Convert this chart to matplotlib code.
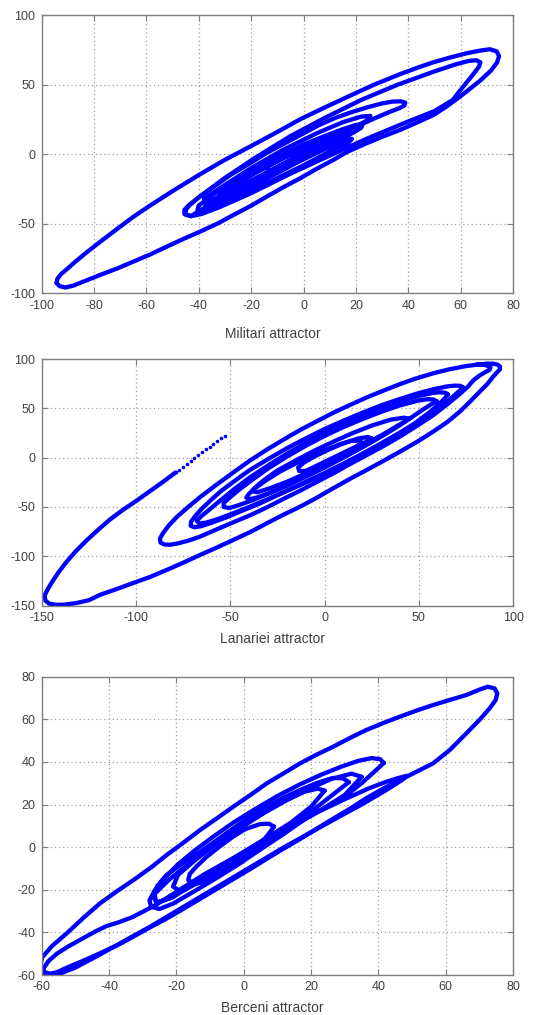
import matplotlib
matplotlib.use("Agg")
import matplotlib.pyplot as plt

plt.rcParams["axes.unicode_minus"] = False

# ---------------- Panel 1: Militari attractor ----------------
mil_label = "Militari attractor"
mil_xticks = [-100, -80, -60, -40, -20, 0, 20, 40, 60, 80]
mil_yticks = [-100, -50, 0, 50, 100]
mil_loop1_x = [-94.3, -94, -92.5, -90, -87, -82.8, -77, -71.4, -65, -58.7, -50, -39.6, -30, -20.5, -10, -1.4, 8, 17.7, 27, 36.8, 44, 49.5, 56, 62.2, 67.3, 71.1, 73.7, 74.6, 73.9, 71.5, 67.5, 62.5, 58.4, 54, 49.5, 43, 36.8, 30, 24, 17, 11.3, 5, -1.4, -8, -14.1, -20, -26.8, -33, -39.6, -46, -52.3, -58.5, -65, -71, -77.7, -84, -88, -91, -93.2, -94.3]
mil_loop1_y = [-92.5, -89.5, -86, -82, -77, -70.5, -62, -54, -45, -37, -26.5, -14.5, -4, 5.4, 16, 25, 33.5, 42, 50, 57.5, 62.5, 66, 69.5, 72.5, 74.4, 75.4, 73.9, 70.5, 66, 60, 53, 45.5, 39.5, 33.5, 28.1, 22.5, 17.4, 12.5, 7.8, 2, -4.2, -10.5, -17.4, -24, -30.5, -37, -43.7, -50, -55.7, -61, -66.5, -72, -77.2, -82, -86.8, -91.5, -94.5, -95.8, -94.8, -92.5]
mil_loop2_x = [-43, -45.5, -45.5, -44, -40, -30, -18, -5, 8, 22, 36, 50, 58, 63, 66, 67.5, 67, 65, 62, 59, 57, 50, 38, 24, 10, -5, -20, -32, -39, -43]
mil_loop2_y = [-44.5, -43, -40, -37, -31, -17, -2, 13, 26, 39, 50, 59.5, 64.5, 67, 67.5, 66, 63, 58, 51, 44, 39, 31, 22, 11, -1, -14, -28, -38, -43, -44.5]
mil_loop3_x = [-45, -43.5, -40, -34, -28, -20, -14, -6, 0, 6, 12, 18, 24, 30, 34, 37, 38.8, 38.5, 36.5, 33, 28, 22, 16, 10, 4, 0, -6, -12, -18, -24, -30, -35, -40, -43, -45, -45]
mil_loop3_y = [-40, -36.5, -31, -23, -15, -6, 1, 9, 15, 21, 26, 30, 33.5, 36.5, 37.8, 38, 37, 35, 33, 30.5, 26.5, 21.5, 16, 10.5, 4.5, 0.5, -5.5, -11.5, -17.5, -24, -30, -35.5, -41, -44.5, -43.5, -40]
mil_loop4_x = [-40, -36, -30, -20, -10, 0, 8, 15, 20, 22.5, 22, 19, 14, 7, 0, -8, -16, -24, -31, -36, -39.5, -40.5, -40]
mil_loop4_y = [-37, -31, -23, -12, -2, 7, 13, 18, 21, 21.5, 19, 15.5, 11, 4.5, -2.5, -10.5, -19, -27, -34, -39, -41.5, -40, -37]
mil_loop5_x = [-32, -27, -18, -8, 2, 10, 15, 17.5, 16, 12, 5, -3, -12, -21, -28, -31.5, -32]
mil_loop5_y = [-29, -22.5, -13, -3, 6, 11.5, 14, 14, 11, 7.5, 1, -6.5, -15.5, -24.5, -31.5, -33, -29]
mil_loop6_x = [-25, -18, -8, 3, 10, 13.5, 12, 6, -3, -12, -20, -24.5, -25]
mil_loop6_y = [-21, -13, -3, 5.5, 9.5, 9.5, 7, 2, -6, -14, -22, -25, -21]
mil_loop7_x = [-14, -6, 4, 12, 16, 15, 8, 0, -8, -13, -14]
mil_loop7_y = [-9, -1, 8, 14, 15.5, 12, 6, -2, -10, -13, -9]
mil_loop8_x = [-38, -30, -20, -8, 5, 15, 22, 25.5, 24, 18, 8, -3, -14, -25, -33, -37.5, -38]
mil_loop8_y = [-32, -22, -10, 3, 15, 23, 27, 27.5, 24, 18, 9, -2, -13, -24, -33, -36.5, -32]
mil_loop9_x = [-36, -28, -16, -4, 8, 15, 18.5, 17, 10, 0, -12, -24, -32, -36, -36]
mil_loop9_y = [-34, -26, -16, -5, 4, 9, 11, 8, 2, -8, -19, -29, -36, -37.5, -34]

# ---------------- Panel 2: Lanariei attractor ----------------
lan_label = "Lanariei attractor"
lan_xticks = [-150, -100, -50, 0, 50, 100]
lan_yticks = [-150, -100, -50, 0, 50, 100]
lan_tail_dots_x = [-53, -55, -57, -59, -61, -63, -65, -67, -69, -71, -73, -75, -77, -79]
lan_tail_dots_y = [22, 19.5, 17, 14, 11, 8.5, 6, 3, 0, -3, -6, -9, -12, -15]
lan_tail_x = [-79, -86, -93, -100, -107, -114, -120, -126, -132, -137, -141, -144.5, -147, -148.5, -148, -146, -142.5, -138, -132, -125, -119, -110, -101.4, -92, -83.7, -75, -66, -57, -48.4, -39, -30.7, -22, -13, -4, 4.6, 13, 22.3, 31, 39.9, 49, 57.6, 65, 71.7, 77, 82.3, 86.5, 89.4, 91.5, 93, 93, 91.5, 89, 86]
lan_tail_y = [-15, -25, -34.5, -44, -53, -63, -73, -83.5, -95, -106, -116, -126, -134, -140, -145, -148, -149.2, -149, -147.5, -144.5, -139, -133, -127, -120.5, -113.8, -106.5, -98.6, -91, -83.4, -75, -66.6, -58, -49.7, -40.5, -31, -22, -12.5, -3.5, 6, 16, 26.4, 36, 46.6, 56.5, 66.9, 75, 82.1, 86.5, 89.5, 92.5, 94.5, 95.3, 95.2]
lan_loopB_x = [86, 80, 75.3, 66, 57.6, 48, 39.9, 30, 22.3, 13, 4.6, -5, -13, -22, -30.7, -40, -48.4, -57, -66, -72, -78, -82.5, -85.5, -87.3, -87, -85, -82, -78, -72, -66, -57, -48.4, -39, -30.7, -22, -13, -4, 4.6, 13, 22.3, 31, 39.9, 48, 57.6, 65, 71.7, 76, 79, 82, 85, 87.5, 88, 86, 82, 80]
lan_loopB_y = [95.2, 94, 92.9, 89.5, 85.5, 80, 74.5, 67, 61, 53, 45.5, 36, 28, 18, 8, -3.5, -15, -27, -40, -49.5, -59.5, -68.5, -76, -82, -86, -88, -88.3, -87, -84, -80, -72.5, -65.5, -58, -50.5, -42, -33.5, -24.5, -16, -7, 2.5, 11.5, 21.3, 31, 43, 54, 64.5, 72, 78.5, 83, 86.5, 89, 91.5, 93.5, 94.8, 94]
lan_loopC_x = [73.5, 72, 69, 65, 58, 50, 40, 30, 20, 10, 0, -10, -20, -30, -40, -48, -55, -60, -65, -68.5, -70.8, -71, -69, -65.5, -60, -52, -44, -35, -25, -15, -5, 5, 15, 25, 35, 45, 52, 58, 63, 67, 70.5, 72.7, 73.5]
lan_loopC_y = [71, 72.8, 73, 72.2, 69.5, 65.5, 59.5, 53, 45.5, 37.5, 29, 19.5, 9.5, -1.5, -13, -24, -34, -42.5, -51.5, -59, -65, -69, -70.5, -69.5, -66, -60.5, -54, -47, -38, -29.5, -21, -12, -2.5, 7, 17.5, 28, 37, 46, 53.5, 60, 66, 69.5, 71]
lan_loopD_x = [65.5, 64, 61, 57, 50, 40, 30, 20, 10, 0, -10, -20, -30, -40, -48, -55, -61, -65.5, -67.8, -66.5, -63, -57, -50, -40, -30, -20, -10, 0, 10, 20, 30, 40, 48, 55, 60, 63.5, 65.5]
lan_loopD_y = [64, 65.8, 66.3, 65.5, 62.5, 57, 50.5, 43, 34.5, 25, 15, 4, -8, -20.5, -32, -43, -52.5, -59.5, -64, -66.5, -66, -62.5, -57.5, -50, -42, -33.5, -24.5, -15.5, -6, 4, 14.5, 25.5, 35, 45, 53, 59.5, 64]
lan_loopE_x = [59.5, 58, 55, 50, 40, 30, 20, 10, 0, -10, -20, -30, -38, -45, -50, -53.5, -53.5, -50.5, -46, -38, -28, -18, -8, 2, 12, 22, 32, 40, 47, 52, 56.5, 59.5]
lan_loopE_y = [57, 58.8, 59.3, 58, 53, 46.5, 39, 31, 22, 12, 1, -11, -22, -32, -40, -46, -50, -51, -48.5, -43, -35, -26.5, -17.5, -8, 2, 12.5, 23.5, 33, 42, 48.5, 54, 57]
lan_loopF_x = [19.5, 18, 14, 8, 0, -8, -16, -24, -31, -36.5, -40, -41.5, -39.5, -35, -28, -20, -12, -4, 4, 11, 16, 19.5]
lan_loopF_y = [15.5, 17.3, 17, 13.5, 7.5, 1, -6.5, -14.5, -23, -30.5, -36.5, -40.5, -42, -40, -35, -28.5, -21, -13.5, -5.5, 2, 8.5, 15.5]
lan_loopG_x = [25, 23, 18, 10, 2, -5, -11, -14, -13.5, -10, -4, 3, 10, 17, 22, 25]
lan_loopG_y = [19.5, 21, 19.5, 14.5, 8, 1.5, -5, -10, -13.5, -13.5, -8, -1.5, 5, 11.5, 16, 19.5]
lan_loopH_x = [45, 42, 35, 25, 15, 5, -5, -15, -25, -32, -37, -38.5, -35.5, -29, -20, -10, 0, 10, 20, 30, 38, 43, 45]
lan_loopH_y = [39.5, 40.5, 38.5, 32.5, 25, 16.5, 7.5, -2.5, -13, -22.5, -30.5, -34, -35, -31, -24.5, -16, -7, 2.5, 12.5, 22.5, 31.5, 37, 39.5]

# ---------------- Panel 3: Berceni attractor ----------------
ber_label = "Berceni attractor"
ber_xticks = [-60, -40, -20, 0, 20, 40, 60, 80]
ber_yticks = [-60, -40, -20, 0, 20, 40, 60, 80]
ber_loopO_x = [-60, -57, -52.6, -47.5, -42.7, -37.5, -32.8, -27.5, -22.9, -18, -13, -8, -3.1, 2, 6.8, 12, 16.7, 21.5, 26.5, 31.5, 36.4, 41.5, 46.3, 51.5, 56.2, 61, 66.1, 70.1, 72.5, 74.5, 75.3, 74.8, 73, 70, 66.1, 61.2, 56.2, 51.3, 48.3, 42, 36.4, 31.5, 26.5, 21.5, 16.7, 11.5, 6.8, 2, -3.1, -8, -13, -18, -22.9, -28, -32.8, -37.5, -42.7, -47.5, -52.6, -55.5, -57.5, -59.5, -60.3, -60]
ber_loopO_y = [-52, -46.5, -40.5, -33, -26.4, -20.5, -15.5, -9.5, -3.7, 2, 8, 13.5, 19, 24.5, 29.9, 34.8, 39.3, 43.3, 47.1, 51.2, 55, 58.3, 61.2, 64.2, 66.7, 69, 71.4, 74, 75.3, 74.5, 72.2, 69, 65.1, 59.7, 53.4, 45.6, 39.3, 35.4, 33, 28, 23, 18, 13.3, 8.5, 3.8, -1, -5.5, -10.2, -15, -19.6, -24.3, -29, -33.5, -37.8, -42, -46, -49.8, -53.2, -56.6, -58.7, -59.4, -58.5, -56, -52]
ber_loopP_x = [-59.5, -58, -55.5, -52, -48, -44, -40.7, -37, -33, -29, -26, -20, -12, -3, 6, 14, 22, 30, 37, 42, 46, 48.5, 47, 42, 35, 28, 20, 12, 4, -4, -12, -20, -28, -36, -44, -50, -54, -57, -59.5, -59.5]
ber_loopP_y = [-57, -53.5, -50, -46.5, -43, -39.5, -37, -35.2, -32.8, -29.5, -27, -21, -13, -5, 3.5, 10.5, 16.5, 22.5, 27.5, 30.5, 32.5, 33.5, 31.5, 26.5, 20, 14, 7, 0, -7.5, -15, -22.5, -30, -37.5, -44.5, -51.5, -56.5, -59, -60, -59.5, -57]
ber_loopM_x = [41.6, 40.5, 38, 34, 29, 23, 16.7, 10, 3, -3.1, -9, -14.5, -19.5, -23.5, -26.5, -28, -27.5, -25, -21, -15, -8.1, -1.5, 5, 11.7, 18, 23, 27, 31, 35, 38.5, 41.6]
ber_loopM_y = [39.5, 41.3, 41.8, 40.5, 37.8, 34, 29.5, 24, 17.5, 11.5, 5, -1.5, -8, -14.5, -20.5, -25, -28, -29, -26.5, -21, -14.5, -8, -1, 6, 13, 17.5, 21, 25, 30, 35, 39.5]
ber_loopN_x = [31.2, 29.5, 26.5, 21.5, 16.7, 11.5, 6.8, 1.5, -3.1, -8, -13, -18, -22.9, -25.8, -27, -25.5, -21, -15, -8.1, 0, 6.8, 12, 16.7, 21.5, 26.5, 31.2]
ber_loopN_y = [30.5, 32.3, 32.5, 30, 26.8, 23, 19, 14, 8.8, 3.3, -2.3, -7.5, -13, -18.5, -23.5, -26, -23.5, -17, -10.5, -3, 3.5, 8, 13, 18.5, 24.7, 30.5]
ber_loopQ_x = [9, 7.5, 4.8, 0.5, -3.1, -7, -11, -14, -16, -16.5, -14.5, -11, -7, -3.1, 0, 2.8, 5, 6.8, 9]
ber_loopQ_y = [9.6, 11, 10.8, 8.5, 5, 0.5, -4.5, -9, -12.5, -15.5, -17.3, -16, -12.5, -8.5, -5, -1.5, 2, 5, 9.6]
ber_loopR_x = [24, 22, 18, 10, 2, -6, -14, -19.5, -21, -19, -14, -7, 0, 7, 14, 20, 24]
ber_loopR_y = [26.5, 27.5, 26, 20, 12.5, 4, -5.5, -13, -18.5, -20.5, -16.5, -10, -2.5, 4.5, 11.5, 19, 26.5]
ber_loopS_x = [35, 32, 26, 16, 6, -4, -14, -22, -26.5, -26, -22, -14, -4, 6, 16, 24, 30, 35]
ber_loopS_y = [33, 34.5, 32, 25, 16, 6, -5, -15, -22, -26, -24, -17, -7.5, 2, 11, 18.5, 24.5, 33]

BLUE = "#0000ff"
LW = 3.1
GRID_C = "#a0a0a0"
SPINE_C = "#808080"
TEXT_C = "#404040"

fig = plt.figure(figsize=(5.45, 10.15), dpi=100)


def style(ax, xlim, ylim, xticks, yticks, label, label_y):
    ax.set_xlim(*xlim)
    ax.set_ylim(*ylim)
    ax.set_xticks(xticks)
    ax.set_yticks(yticks)
    ax.grid(True, color=GRID_C, linestyle=(0, (1, 2.3)), linewidth=0.9)
    ax.set_axisbelow(True)
    for s in ax.spines.values():
        s.set_color(SPINE_C)
        s.set_linewidth(1.0)
    ax.tick_params(direction="in", length=4, width=0.8, color=SPINE_C,
                   top=True, right=True, labelsize=9, labelcolor=TEXT_C, pad=4.5)
    for t in ax.get_xticklabels() + ax.get_yticklabels():
        t.set_family("Liberation Sans")
    ax.set_xlabel(label, fontsize=10, color=TEXT_C, family="Liberation Sans")
    ax.xaxis.set_label_coords(0.49, label_y)


def draw(ax, loops):
    for lx, ly in loops:
        ax.plot(lx, ly, color=BLUE, lw=LW, solid_joinstyle="round",
                solid_capstyle="round")


ax1 = fig.add_axes([0.0765, 0.711, 0.865, 0.2742])
draw(ax1, [(mil_loop1_x, mil_loop1_y), (mil_loop2_x, mil_loop2_y),
           (mil_loop3_x, mil_loop3_y), (mil_loop4_x, mil_loop4_y),
           (mil_loop5_x, mil_loop5_y), (mil_loop6_x, mil_loop6_y),
           (mil_loop7_x, mil_loop7_y), (mil_loop8_x, mil_loop8_y),
           (mil_loop9_x, mil_loop9_y)])
style(ax1, (-100, 80), (-100, 100), mil_xticks, mil_yticks, mil_label, -0.12)

ax2 = fig.add_axes([0.0765, 0.4033, 0.865, 0.243])
ax2.plot(lan_tail_dots_x, lan_tail_dots_y, linestyle="none", marker="o",
         markersize=2.6, color=BLUE, markeredgewidth=0)
draw(ax2, [(lan_tail_x, lan_tail_y), (lan_loopB_x, lan_loopB_y),
           (lan_loopC_x, lan_loopC_y), (lan_loopD_x, lan_loopD_y),
           (lan_loopE_x, lan_loopE_y), (lan_loopF_x, lan_loopF_y),
           (lan_loopG_x, lan_loopG_y), (lan_loopH_x, lan_loopH_y)])
style(ax2, (-150, 100), (-150, 100), lan_xticks, lan_yticks, lan_label, -0.105)

ax3 = fig.add_axes([0.0765, 0.0394, 0.865, 0.2939])
draw(ax3, [(ber_loopO_x, ber_loopO_y), (ber_loopP_x, ber_loopP_y),
           (ber_loopM_x, ber_loopM_y), (ber_loopN_x, ber_loopN_y),
           (ber_loopQ_x, ber_loopQ_y), (ber_loopR_x, ber_loopR_y),
           (ber_loopS_x, ber_loopS_y)])
style(ax3, (-60, 80), (-60, 80), ber_xticks, ber_yticks, ber_label, -0.088)

fig.savefig("out.png", dpi=100)
